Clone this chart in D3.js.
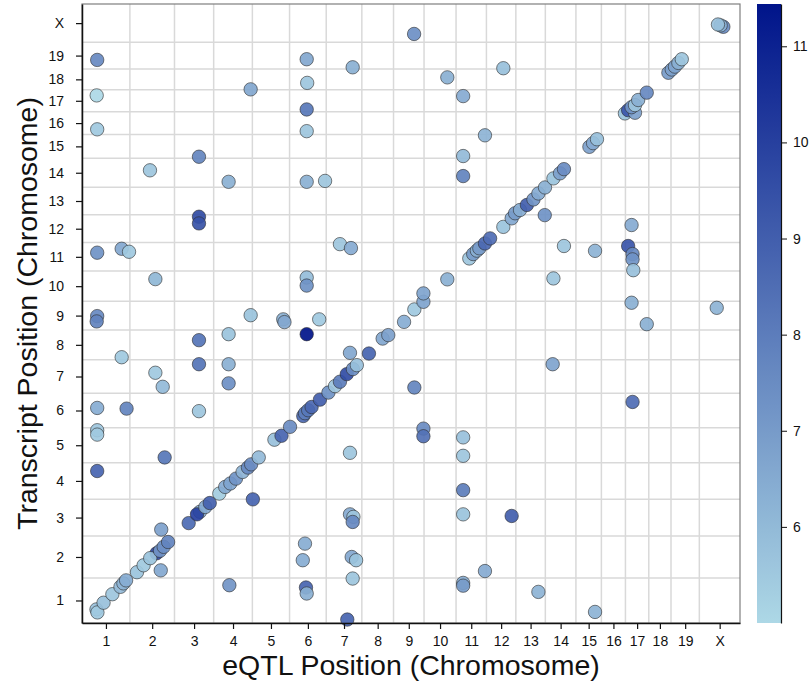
<!DOCTYPE html>
<html>
<head>
<meta charset="utf-8">
<script src="https://cdn.jsdelivr.net/npm/d3@7"></script>
<style>
  body { margin: 0; background: #fff; }
  svg { display: block; font-family: "Liberation Sans", Arial, Helvetica, sans-serif; }
</style>
</head>
<body>
<svg id="chart" width="810" height="684"></svg>
<script>
// Mouse chromosomes in plotting order and their lengths (Mb)
const chromosomes = ["1","2","3","4","5","6","7","8","9","10","11","12","13","14","15","16","17","18","19","X"];
const chromLengthMb = [195.5,182.1,160.0,158.0,151.8,149.7,145.4,129.4,124.6,130.7,124.0,120.1,120.4,124.9,104.0,98.2,95.3,90.7,115.7,166.0];

// eQTL hits: [eQTL chr, eQTL Mb, transcript chr, transcript Mb, LOD]
const transHits = [
  [1,62,19,39,7.6],[1,60,17,71,5.0],[1,62,16,22,5.5],[4,151,18,2,6.6],[3,100,15,7,7.7],
  [2,82,14,73,5.6],[4,61,14,23,6.3],[3,100,12,112,9.6],[3,100,12,83,9.4],[1,62,11,80,7.3],
  [1,162,11,97,6.6],[1,192,11,84,5.5],[2,104,10,96,6.1],[1,62,9,60,7.6],[1,60,9,37,7.8],
  [4,151,9,64,5.7],[5,126,9,46,6.3],[5,131,9,34,6.6],[6,121,9,46,5.5],[4,61,8,111,5.7],
  [3,100,8,85,8.3],[6,70,8,111,11.44],[1,162,8,11,5.5],[3,100,7,126,8.3],[4,61,7,126,6.3],
  [2,104,7,89,5.5],[2,134,7,28,6.0],[4,61,7,43,7.4],[1,62,6,86,6.4],[1,182,6,83,7.8],
  [3,100,6,72,5.6],[1,62,5,141,5.6],[1,62,5,122,5.5],[1,62,4,122,8.8],[2,142,5,23,8.2],
  [5,2,3,159,8.8],[4,64,1,164,7.2],[2,128,3,28,6.8],[2,126,2,33,6.6],[9,84,"X",36,7.4],
  [6,70,19,42,6.6],[7,108,19,7,6.3],[6,72,18,30,5.6],[6,70,17,10,8.2],[6,70,16,14,5.6],
  [6,70,14,23,6.3],[6,145,14,27,5.6],[6,70,10,103,5.9],[6,70,10,68,7.3],[7,56,11,117,5.6],
  [7,101,11,100,6.5],[10,95,18,54,6.3],[11,29,17,68,6.5],[12,69,19,3,5.8],[11,118,15,100,6.2],
  [11,29,15,10,6.0],[11,29,14,48,7.8],[13,118,12,119,7.3],[14,76,11,109,5.6],[15,78,11,88,6.2],
  [14,33,10,99,5.6],[14,30,7,126,6.7],[17,25,12,76,6.5],[17,11,11,109,9.3],[17,29,11,74,7.6],
  [17,29,11,51,7.3],[17,32,11,4,5.8],[17,25,9,118,6.3],[17,87,9,25,6.3],["X",71,9,96,6.2],
  [17,29,6,112,8.5],[7,97,5,43,5.6],[9,122,5,148,7.5],[9,122,5,115,8.4],[11,29,5,110,5.8],
  [11,29,5,30,5.6],[11,29,4,39,8.0],[11,29,3,94,5.7],[12,103,3,87,9.0],[7,97,3,94,6.5],
  [7,111,3,83,5.6],[7,108,3,61,7.6],[6,63,2,149,6.4],[6,54,2,77,6.4],[7,104,2,91,6.6],
  [7,122,2,77,5.7],[7,108,1,193,5.6],[11,118,2,30,6.5],[11,29,1,174,6.4],[11,29,1,162,7.0],
  [6,67,1,154,8.8],[6,70,1,128,6.3],[13,92,1,135,6.2],[15,78,1,48,6.2],[7,86,1,15,8.8],
  [9,85,7,25,7.7]
];

const cisHits = [
  [1,59,1,59,5.8],[1,63,1,46,5.5],[1,88,1,88,5.8],[1,124,1,125,5.6],[1,157,1,157,6.0],
  [1,169,1,172,6.2],[1,180,1,185,6.4],[2,29,2,25,5.7],[2,56,2,55,5.5],[2,109,2,107,9.8],
  [2,83,2,86,5.7],[2,123,2,118,7.2],[2,138,2,135,7.4],[2,156,2,156,7.8],[3,58,3,56,8.6],
  [3,104,3,105,6.5],[3,92,3,94,10.0],[3,126,3,126,6.5],[3,144,3,143,8.9],[4,23,4,24,5.4],
  [4,47,4,53,6.5],[4,68,4,68,6.7],[4,91,4,89,7.3],[4,118,4,118,6.2],[4,140,4,137,7.6],
  [4,153,4,151,7.5],[5,26,5,23,6.0],[5,90,5,100,5.8],[5,119,5,117,8.8],[6,2,6,4,7.5],
  [6,56,6,51,8.6],[6,63,6,63,8.0],[6,76,6,76,8.2],[6,90,6,90,8.7],[6,124,6,122,9.0],
  [7,9,7,3,7.3],[7,36,7,31,5.6],[7,56,7,50,8.0],[7,84,7,83,9.6],[7,109,7,105,7.4],
  [7,125,7,122,5.8],[7,97,8,30,6.6],[8,29,8,27,8.8],[8,85,8,92,6.6],[8,108,8,107,6.8],
  [9,43,9,35,6.4],[9,85,9,89,5.5],[9,122,9,122,6.7],[9,122,10,34,6.7],[10,95,10,95,6.3],
  [11,54,11,55,5.6],[11,70,11,74,7.0],[11,85,11,89,6.3],[11,95,11,99,7.0],[11,118,11,120,8.7],
  [12,15,12,18,8.5],[12,69,12,68,5.7],[12,103,12,105,6.6],[12,117,13,7,7.0],[13,17,13,21,6.4],
  [13,45,13,43,9.0],[13,72,13,67,7.2],[13,92,13,93,6.5],[13,119,13,119,6.3],[14,33,14,38,5.7],
  [14,60,14,60,6.8],[14,76,14,78,7.5],[15,55,15,50,6.8],[15,70,15,66,6.5],[15,86,15,83,5.8],
  [16,96,16,91,5.7],[17,11,17,7,9.3],[17,39,16,94,6.8],[17,25,17,20,7.2],[17,39,17,29,5.6],
  [17,52,17,51,6.3],[17,87,17,83,7.6],[18,80,18,74,7.0],[19,3,18,88,6.8],[19,16,19,10,6.7],
  [19,30,19,26,6.3],[19,44,19,42,5.6],["X",98,"X",67,7.5],["X",87,"X",73,6.3],["X",76,"X",77,5.8]
];

const colorTicks = [6, 7, 8, 9, 10, 11];

// ---- layout ----
const svg = d3.select("#chart");
const plot = { left: 82, top: 4, right: 740, bottom: 623 };
const bar = { left: 757, right: 781 };

const chromStart = [0, ...Array.from(d3.cumsum(chromLengthMb))];
const genomeLength = chromStart[chromStart.length - 1];
const chromIndex = c => chromosomes.indexOf(String(c));
const genomePos = (c, mb) => chromStart[chromIndex(c)] + mb;
const chromCenters = chromosomes.map((c, i) => chromStart[i] + chromLengthMb[i] / 2);
const boundaries = chromStart.slice(1, -1);

const x = d3.scaleLinear().domain([0, genomeLength]).range([plot.left, plot.right]);
const y = d3.scaleLinear().domain([0, genomeLength]).range([plot.bottom, plot.top]);

const hits = transHits.concat(cisHits);
const lodExtent = d3.extent(hits, d => d[4]);
const color = d3.scaleSequential(d3.interpolateRgb("#add8e6", "#00148a")).domain(lodExtent);

// grid lines at chromosome boundaries
const grid = svg.append("g").attr("stroke", "#d9d9d9").attr("stroke-width", 1.5);
grid.selectAll("line.v").data(boundaries).join("line").attr("class", "v")
  .attr("x1", d => x(d)).attr("x2", d => x(d))
  .attr("y1", plot.top).attr("y2", plot.bottom);
grid.selectAll("line.h").data(boundaries).join("line").attr("class", "h")
  .attr("y1", d => y(d)).attr("y2", d => y(d))
  .attr("x1", plot.left).attr("x2", plot.right);

// panel frame
svg.append("rect")
  .attr("x", plot.left).attr("y", plot.top)
  .attr("width", plot.right - plot.left).attr("height", plot.bottom - plot.top)
  .attr("fill", "none").attr("stroke", "#7f7f7f").attr("stroke-width", 1.2);

// points
svg.append("g").selectAll("circle").data(hits).join("circle")
  .attr("cx", d => x(genomePos(d[0], d[1])))
  .attr("cy", d => y(genomePos(d[2], d[3])))
  .attr("r", 6.7)
  .attr("fill", d => color(d[4]))
  .attr("fill-opacity", 0.92)
  .attr("stroke", "#2b2b2b")
  .attr("stroke-opacity", 0.75)
  .attr("stroke-width", 0.8);

// axes
const xAxis = d3.axisBottom(x).tickValues(chromCenters)
  .tickFormat((d, i) => chromosomes[i]).tickSize(6).tickSizeOuter(0).tickPadding(7);
const yAxis = d3.axisLeft(y).tickValues(chromCenters)
  .tickFormat((d, i) => chromosomes[i]).tickSize(6).tickSizeOuter(0).tickPadding(12);

const gx = svg.append("g").attr("transform", `translate(0,${plot.bottom})`).call(xAxis);
const gy = svg.append("g").attr("transform", `translate(${plot.left},0)`).call(yAxis);
[gx, gy].forEach(g => {
  g.select(".domain").attr("stroke", "#111").attr("stroke-width", 1.5);
  g.selectAll(".tick line").attr("stroke", "#111").attr("stroke-width", 1.2);
  g.selectAll(".tick text").attr("fill", "#111").style("font-size", "14px")
    .style("font-family", "\"Liberation Sans\", Arial, sans-serif");
});

// axis titles
svg.append("text")
  .attr("x", (plot.left + plot.right) / 2).attr("y", 675)
  .attr("text-anchor", "middle").attr("fill", "#111")
  .style("font-size", "28.5px")
  .text("eQTL Position (Chromosome)");

svg.append("text")
  .attr("transform", `translate(37,${(plot.top + plot.bottom) / 2}) rotate(-90)`)
  .attr("text-anchor", "middle").attr("fill", "#111")
  .style("font-size", "28.5px")
  .text("Transcript Position (Chromosome)");

// colour bar
const c = d3.scaleLinear().domain(lodExtent).range([plot.bottom, plot.top]);
const defs = svg.append("defs");
const grad = defs.append("linearGradient").attr("id", "lodGradient")
  .attr("x1", 0).attr("y1", 1).attr("x2", 0).attr("y2", 0);
grad.selectAll("stop").data(d3.range(0, 1.0001, 0.05)).join("stop")
  .attr("offset", t => t)
  .attr("stop-color", t => color(lodExtent[0] + t * (lodExtent[1] - lodExtent[0])));

svg.append("rect")
  .attr("x", bar.left).attr("y", plot.top)
  .attr("width", bar.right - bar.left).attr("height", plot.bottom - plot.top)
  .attr("fill", "url(#lodGradient)");

const gc = svg.append("g").attr("transform", `translate(${bar.right},0)`)
  .call(d3.axisRight(c).tickValues(colorTicks).tickFormat(d3.format("d"))
    .tickSize(6).tickSizeOuter(0).tickPadding(6));
gc.select(".domain").attr("stroke", "#111").attr("stroke-width", 1.2);
gc.selectAll(".tick line").attr("stroke", "#111");
gc.selectAll(".tick text").attr("fill", "#111").style("font-size", "14px")
  .style("font-family", "\"Liberation Sans\", Arial, sans-serif");
</script>
</body>
</html>
